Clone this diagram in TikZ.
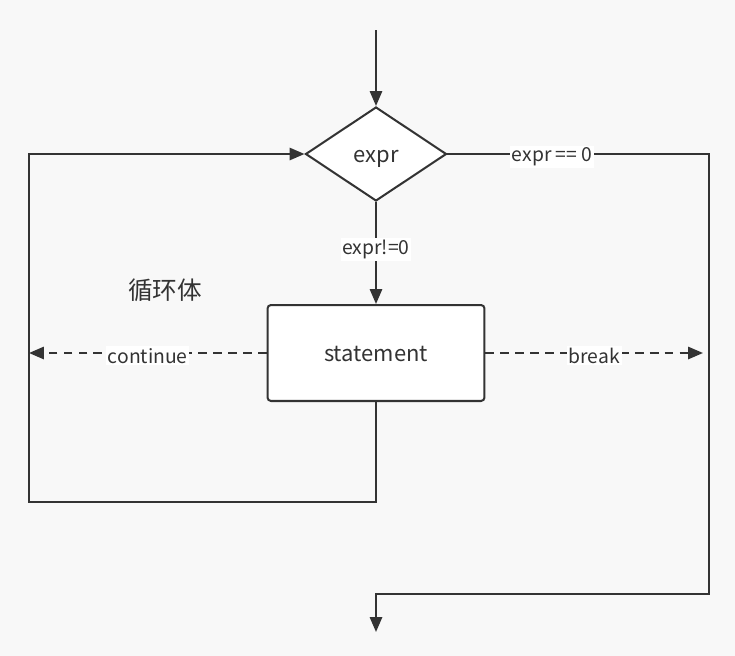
\documentclass[tikz,border=0pt]{standalone}
\usepackage{fontspec}
\setmainfont{Noto Sans CJK SC}
\usetikzlibrary{arrows.meta,shapes.geometric}
\definecolor{bgcol}{HTML}{F8F8F8}
\definecolor{inkcol}{HTML}{333333}
\tikzset{
    %Define standard arrow tip
    >={Triangle[length=8.5pt,width=7pt]},
    %Define style for boxes
    decision/.style={
           diamond,
           draw=inkcol, line width=1.15pt,
           fill=white,
           inner sep=0pt,
           minimum width=2.82cm,
           minimum height=1.88cm,
           text height=1em, text depth=0pt,
           font=\fontsize{12.5pt}{14pt}\selectfont},
    process/.style={
           rectangle,
           rounded corners=2pt,
           draw=inkcol, line width=1.15pt,
           fill=white,
           minimum width=4.34cm,
           minimum height=1.92cm,
           text height=1em, text depth=0pt,
           font=\fontsize{12.5pt}{14pt}\selectfont},
    lbl/.style={
           fill=white,
           inner sep=1pt,
           yshift=-1.5pt,
           text=inkcol,
           font=\fontsize{11pt}{12pt}\selectfont},
    % Define arrow style
    pil/.style={
           ->,
           draw=inkcol,
           line width=1.15pt},
    dashedarr/.style={
           ->,
           draw=inkcol,
           line width=1.15pt,
           dash pattern=on 5pt off 3.5pt}
}
\begin{document}
\begin{tikzpicture}[x=0.02cm, y=-0.02cm, text=inkcol]
    % BACKGROUND
    \fill[bgcol] (0,0) rectangle (735,656);

    \node[decision] at (376,154) (expr) {expr};
    \node[process] at (376,353) (stmt) {statement};
    \node[font=\fontsize{14pt}{16pt}\selectfont] at (165,290) (body) {循环体};

    \coordinate (start) at (376,30);
    \coordinate (stop) at (376,632);
    \coordinate (loopcorner) at (29,502);
    \coordinate (exitcorner) at (709,594);
    \coordinate (breakend) at (703,353);

    % main flow
    \draw[pil] (start) -- (expr);
    \draw[pil] (expr) -- node[lbl, pos=0.44] {expr!=0} (stmt);
    \draw[pil] (stmt.south) |- (loopcorner) |- (expr.west);
    \draw[pil] (expr.east) -- node[lbl, pos=0.4] {expr == 0} (expr.east -| exitcorner)
        -- (exitcorner) -| (stop);

    % jumps
    \draw[dashedarr] (stmt.west) -- node[lbl] {continue} (stmt.west -| loopcorner);
    \draw[dashedarr] (stmt.east) -- node[lbl] {break} (breakend);
\end{tikzpicture}
\end{document}
